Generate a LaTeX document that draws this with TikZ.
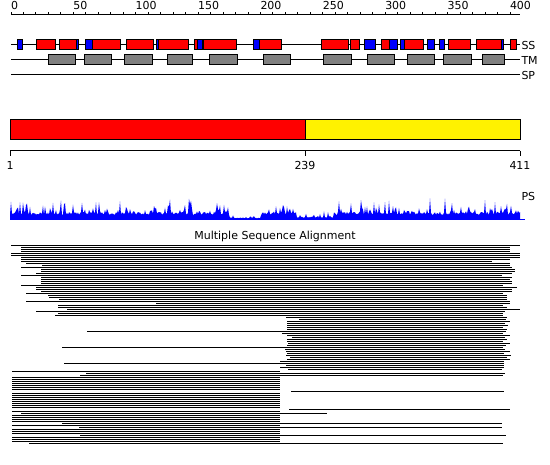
\documentclass[tikz,border=0pt]{standalone}
\usepackage{fontspec}
\setmainfont{DejaVu Sans}
\begin{document}
\begin{tikzpicture}[x=1pt,y=-1pt,line width=1pt,line cap=butt,font=\fontsize{11}{12}\selectfont,
  lbl/.style={inner sep=0pt},
  ssred/.style={draw=black,fill=red},
  ssblue/.style={draw=black,fill=blue},
  tmbox/.style={draw=black,fill=gray},
  msa/.style={line width=1pt}]
\useasboundingbox (0,0) rectangle (550,465);
\draw (11,15) -- (520,15);
\foreach \r in {0,10,...,400} \draw ({11+1.2475*\r},15) -- ({11+1.2475*\r},12);
\foreach \r in {0,50,...,400} \node[lbl,anchor=base west] (r\r) at ({10.5+1.2475*\r},10) {\r};
\draw (11,45) -- (520,45) node[lbl,anchor=west,xshift=1pt] (ss) {SS};
\draw (11,60) -- (520,60) node[lbl,anchor=west,xshift=1pt] (tm) {TM};
\draw (11,75) -- (520,75) node[lbl,anchor=west,xshift=1pt] (sp) {SP};
\foreach \a/\b in {36/55,59/76,92/120,126/153,158/188,194/197,203/236,259/281,321/348,350/359,381/389,404/423,448/470,476/501,510/516}
  \draw[ssred] (\a,40) rectangle (\b,50);
\foreach \a/\b in {17/22,76/78,85/92,156/158,197/202,253/259,364/375,389/397,400/404,427/434,439/444,501/503}
  \draw[ssblue] (\a,40) rectangle (\b,50);
\foreach \a/\b in {48/75,84/111,124/152,167/192,209/237,263/290,323/351,367/394,407/434,443/471,482/504}
  \draw[tmbox] (\a,55) rectangle (\b,65);
\draw[fill=red] (10,120) rectangle (305,140);
\draw[fill=yellow] (305,120) rectangle (520,140);
\draw (10,151) -- (520,151);
\draw (10,151) -- (10,156) node[lbl,below=5pt] (n1) {1};
\draw (305,151) -- (305,156) node[lbl,below=5pt] (n239) {239};
\draw (520,151) -- (520,156) node[lbl,below=5pt] (n411) {411};
\node[lbl,anchor=west] (ps) at (521,196) {PS};
\pgfmathsetseed{7}
\fill[blue] (10,220) -- plot[samples=511,domain=10:520] (\x,{220-(1-0.7*(\x>228)*(\x<262)-0.6*(\x>296)*(\x<334))*(5+3*rnd+14*rnd^6)}) -- (520,220) -- cycle;
\draw[blue] (10,220) -- (525,220);
\node (title) at (275,236) {Multiple Sequence Alignment};
\foreach \y/\a/\b in {245/11/520,247/21/510,249/21/510,251/21/510,253/11/520,255/11/520,257/21/520,259/21/510,261/21/492,263/26/510,265/42/510,267/21/512,269/41/515,271/41/515,273/36/512,275/21/502,277/41/512,279/41/510,281/41/512,283/41/512,285/21/503,287/36/517,289/36/512,291/41/512,293/26/503,295/48/507,297/49/507,299/59/507,301/26/510,303/156/510,305/58/503,307/58/507,309/67/520,311/36/505,313/58/503,315/55/503,
  317/286/507,319/299/506,321/287/510,323/287/505,325/287/508,327/287/503,329/287/507,331/87/506,333/282/503,335/287/510,337/292/505,339/287/507,341/287/503,343/288/510,345/287/506,347/62/503,349/285/505,351/286/510,353/287/504,355/286/511,357/290/507,359/287/510,361/280/504,363/64/504,365/286/504,367/280/504,369/288/502,
  373/86/505,375/80/503,391/291/504,409/289/510,413/21/327,423/62/502,427/79/502,435/80/506,443/29/503}
  \draw[msa] (\a,\y+0.5) -- (\b,\y+0.5);
\foreach \y in {371,377,379,...,389,393,395,...,407,411,415,417,419,421,425,429,431,433,437,439,441}
  \draw[msa] (12,\y+0.5) -- (280,\y+0.5);
\end{tikzpicture}
\end{document}
